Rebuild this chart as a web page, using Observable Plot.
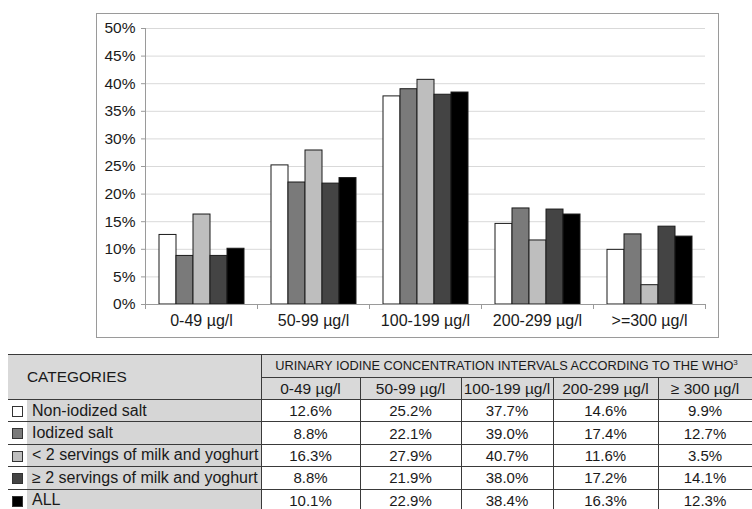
<!DOCTYPE html>
<html><head><meta charset="utf-8">
<script src="https://cdn.jsdelivr.net/npm/d3@7"></script>
<script src="https://cdn.jsdelivr.net/npm/@observablehq/plot@0.6"></script>
<style>
html,body{margin:0;padding:0;background:#fff}
body{width:752px;height:509px;overflow:hidden;position:relative;font-family:"Liberation Sans",Arial,sans-serif;color:#1a1a1a}
#chart{position:absolute;left:96px;top:13px;width:621px;height:323px;border:1px solid #9a9a9a}
#chart svg{display:block}
#tbl{position:absolute;left:8px;top:354px;border-collapse:collapse;table-layout:fixed;width:744px;color:#1a1a1a}
#tbl td{border:1px solid #3a3a3a;padding:0;text-align:center;white-space:nowrap;overflow:hidden;line-height:1}
#tbl .hd{background:#d9d9d9}
#tbl .cat{background:#d6d6d6;text-align:left;padding-left:5px;font-size:16px;border-left:none}
#tbl .sw{background:#fff;border-left:none;border-right:none}
#tbl .val{font-size:15px;background:#fff}
#tbl .sub{font-size:15.5px}
#tbl .top{font-size:12.8px}
#tbl .cathd{text-align:left;padding-left:19px;font-size:15.4px;border-left:none}
.swatch{display:inline-block;width:9px;height:9px;border:1px solid #333;vertical-align:middle}
sup{font-size:8px;line-height:0}
</style></head><body>
<div id="chart"></div>
<table id="tbl"></table>
<script>
// Chart intervals (x-axis) and table intervals
const intervals = ["0-49 µg/l", "50-99 µg/l", "100-199 µg/l", "200-299 µg/l", ">=300 µg/l"];
const tableIntervals = ["0-49 µg/l", "50-99 µg/l", "100-199 µg/l", "200-299 µg/l", "≥ 300 µg/l"];
const categories = ["Non-iodized salt", "Iodized salt", "< 2 servings of milk and yoghurt", "≥ 2 servings of milk and yoghurt", "ALL"];
// Series values (%)
const nonIodizedSalt = [12.6, 25.2, 37.7, 14.6, 9.9];
const iodizedSalt = [8.8, 22.1, 39.0, 17.4, 12.7];
const lessThan2Servings = [16.3, 27.9, 40.7, 11.6, 3.5];
const atLeast2Servings = [8.8, 21.9, 38.0, 17.2, 14.1];
const allSubjects = [10.1, 22.9, 38.4, 16.3, 12.3];
const colors = ["#ffffff", "#7a7a7a", "#bebebe", "#444444", "#000000"];
const yTicks = [0, 5, 10, 15, 20, 25, 30, 35, 40, 45, 50];
const headerTitle = "URINARY IODINE CONCENTRATION INTERVALS ACCORDING TO THE WHO";
const headerNote = "3";
const categoriesHeader = "CATEGORIES";

const series = [nonIodizedSalt, iodizedSalt, lessThan2Servings, atLeast2Servings, allSubjects];
const rows = [];
series.forEach((vals, c) => vals.forEach((v, i) => rows.push({interval: intervals[i], category: categories[c], value: v})));

const plot = Plot.plot({
  width: 621, height: 323,
  marginLeft: 46, marginRight: 11, marginTop: 14, marginBottom: 33,
  style: {fontFamily: "'Liberation Sans', Arial, sans-serif", fontSize: "15.5px", color: "#1a1a1a", background: "white", overflow: "visible"},
  fx: {domain: intervals, padding: 0, axis: null},
  x: {domain: categories, paddingInner: 0, paddingOuter: 0.78, axis: null},
  y: {domain: [0, 50], axis: null},
  color: {domain: categories, range: colors},
  marks: [
    Plot.gridY(yTicks, {stroke: "#d9d9d9", strokeOpacity: 1}),
    Plot.barY(rows, {fx: "interval", x: "category", y: "value", fill: "category", stroke: "#1a1a1a", strokeWidth: 1}),
    Plot.ruleY([0], {stroke: "#9a9a9a"}),
    Plot.frame({anchor: "left", facetAnchor: "left", stroke: "#9a9a9a"}),
    Plot.frame({anchor: "left", insetTop: 276, insetBottom: -4, stroke: "#9a9a9a"}),
    Plot.frame({anchor: "right", facetAnchor: "right", insetTop: 276, insetBottom: -4, stroke: "#9a9a9a"}),
    Plot.axisY(yTicks, {tickSize: 4, tickPadding: 6, tickFormat: d => d + "%", stroke: "#9a9a9a", fill: "#1a1a1a", label: null, fontSize: 15.5}),
    Plot.axisFx({anchor: "bottom", tickSize: 0, tickPadding: 10, label: null, fontSize: 16, fill: "#1a1a1a"})
  ]
});
document.getElementById("chart").appendChild(plot);

// Table built from the same arrays
const tbl = document.getElementById("tbl");
const colW = [19, 234, 99, 101, 92, 105, 94];
const cg = document.createElement("colgroup");
colW.forEach(w => { const c = document.createElement("col"); c.style.width = w + "px"; cg.appendChild(c); });
tbl.appendChild(cg);
const tr1 = document.createElement("tr"); tr1.style.height = "23px";
const th0 = document.createElement("td"); th0.colSpan = 2; th0.rowSpan = 2; th0.className = "hd cathd"; th0.textContent = categoriesHeader; tr1.appendChild(th0);
const th1 = document.createElement("td"); th1.colSpan = 5; th1.className = "hd top"; th1.textContent = headerTitle;
const sup = document.createElement("sup"); sup.textContent = headerNote; th1.appendChild(sup); tr1.appendChild(th1);
tbl.appendChild(tr1);
const tr2 = document.createElement("tr"); tr2.style.height = "22px";
tableIntervals.forEach(t => { const td = document.createElement("td"); td.className = "hd sub"; td.textContent = t; tr2.appendChild(td); });
tbl.appendChild(tr2);
categories.forEach((cat, c) => {
  const tr = document.createElement("tr"); tr.style.height = "22.4px";
  const sw = document.createElement("td"); sw.className = "sw";
  const s = document.createElement("span"); s.className = "swatch"; s.style.background = colors[c]; sw.appendChild(s); tr.appendChild(sw);
  const lab = document.createElement("td"); lab.className = "cat"; lab.textContent = cat; tr.appendChild(lab);
  series[c].forEach(v => { const td = document.createElement("td"); td.className = "val"; td.textContent = v.toFixed(1) + "%"; tr.appendChild(td); });
  tbl.appendChild(tr);
});
</script>
</body></html>
